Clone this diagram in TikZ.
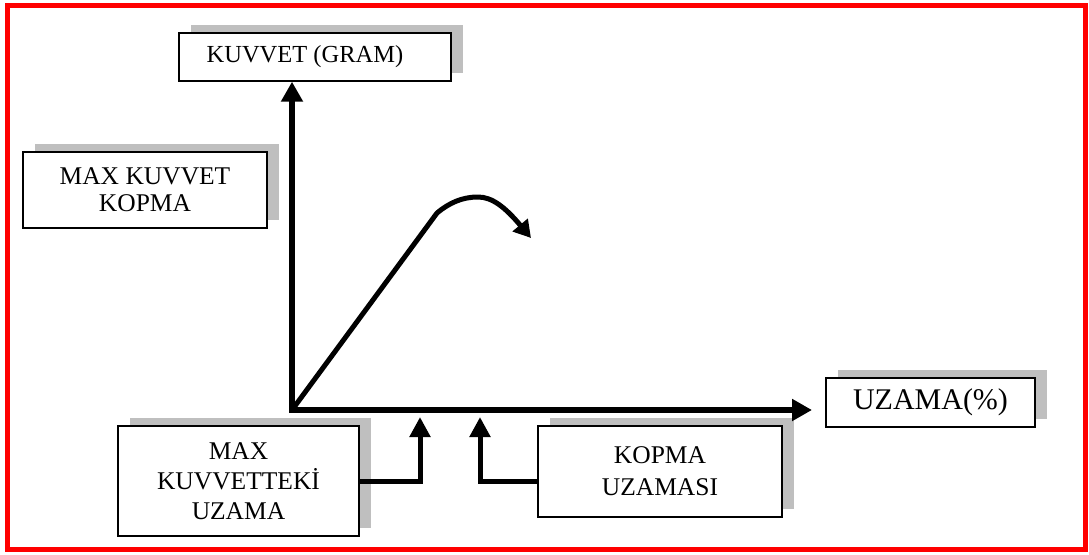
\documentclass[tikz,border=0pt]{standalone}
\usepackage{fontspec}
\setmainfont{Liberation Serif}
\usetikzlibrary{arrows.meta,shadows}
\begin{document}
\begin{tikzpicture}[x=1pt,y=-1pt,
  box/.style={draw=black, line width=1.4pt, fill=white, inner sep=0pt, align=center,
    general shadow={fill=black!25, shadow xshift=12pt, shadow yshift=8pt}},
  axisarrow/.style={line width=6pt, line cap=rect, -{Triangle[width=21pt,length=20pt]}},
  curvearrow/.style={line width=5pt, line join=round, -{Triangle[width=19pt,length=17pt]}},
  linkarrow/.style={line width=5pt, -{Triangle[width=20pt,length=20pt]}}]
\useasboundingbox (0,0) rectangle (1089,554);
% outer frame
\draw[red, line width=5pt] (7.5,5) rectangle (1085.5,549.5);

% label boxes
\node[box, minimum width=272pt, minimum height=48pt, font=\fontsize{24.5}{28}\selectfont]
  (kg) at (315,57) {\hspace*{-20pt}KUVVET (GRAM)};
\node[box, minimum width=244pt, minimum height=76pt, font=\fontsize{25.5}{27}\selectfont]
  (mk) at (145,190) {MAX KUVVET\\KOPMA};
\node[box, minimum width=209pt, minimum height=49pt, font=\fontsize{30}{34}\selectfont]
  (uz) at (930.5,402.5) {UZAMA(\%)};
\node[box, minimum width=241pt, minimum height=110pt, font=\fontsize{25.5}{30}\selectfont]
  (mku) at (238.5,481) {MAX\\KUVVETTEKİ\\UZAMA};
\node[box, minimum width=244pt, minimum height=91pt, font=\fontsize{25.5}{32}\selectfont]
  (kp) at (660,471.5) {KOPMA\\UZAMASI};

% axes
\coordinate (o) at (292,410);
\coordinate (xe) at (812,410);
\draw[axisarrow] (o) -- (o |- kg.south);
\draw[axisarrow] (o) -- (xe);

% load-elongation curve
\coordinate (k) at (437,213);
\coordinate (ce) at (531,238);
\draw[curvearrow] (o) -- (k) .. controls (449,203) and (462,197) .. (478,197)
  .. controls (492,197) and (505,207) .. (ce);

% pointers to the elongation axis
\coordinate (a1) at (420,417);
\coordinate (a2) at (480,417);
\draw[linkarrow] (mku.east) -| (a1);
\draw[linkarrow] ([yshift=-10pt]kp.west) -| (a2);
\end{tikzpicture}
\end{document}
